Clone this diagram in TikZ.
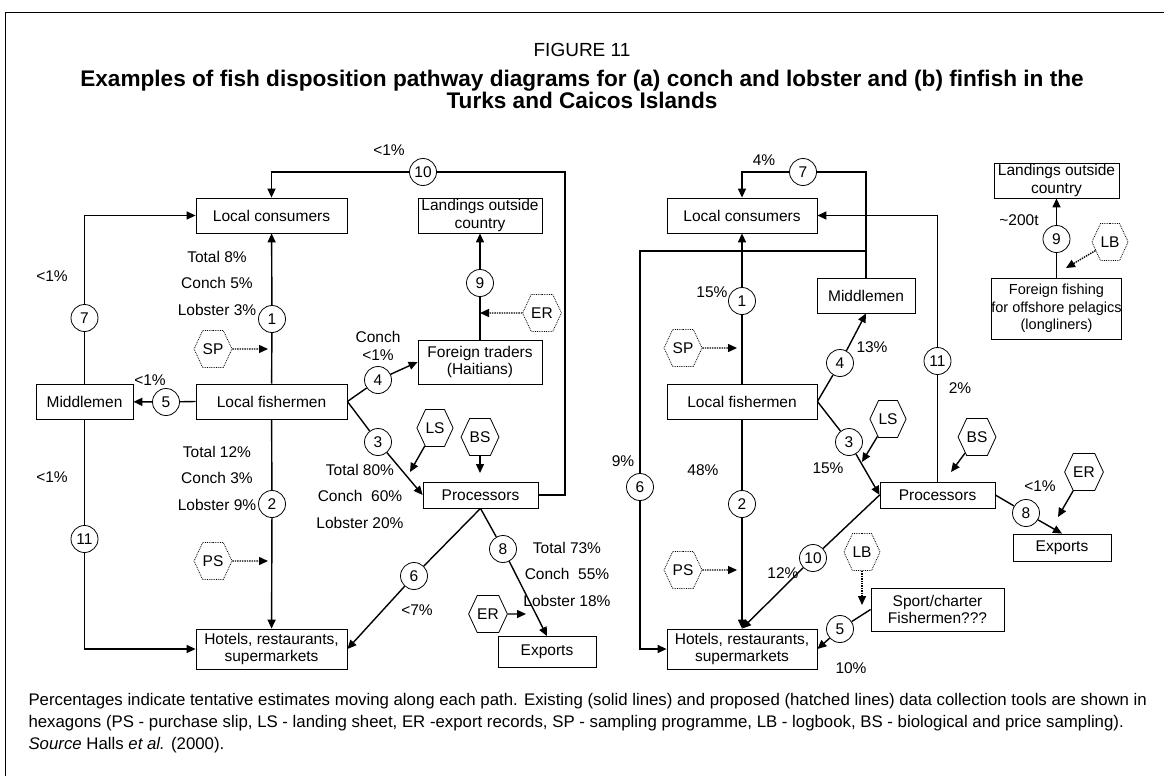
\documentclass[tikz,border=0pt]{standalone}
\usepackage{fontspec}
\setmainfont{Liberation Sans}
\usetikzlibrary{arrows.meta, positioning, shapes.symbols}

\begin{document}
\begin{tikzpicture}[x=1pt, y=-1pt,
    every node/.style={font=\fontsize{15.5}{17.5}\selectfont},
    box/.style={draw, line width=0.8pt, rectangle, align=center, inner sep=1pt},
    num/.style={draw, circle, line width=0.8pt, fill=white, minimum size=27pt, inner sep=0pt},
    hexa/.style={draw, line width=0.8pt, shape=signal, signal to=east and west, signal pointer angle=130, minimum width=35pt, minimum height=37pt, inner sep=0pt},
    planned/.style={hexa, densely dotted},
    flow/.style={line width=1.4pt, -{Triangle[length=9pt, width=8pt]}},
    tool/.style={line width=1.4pt, densely dotted, -{Triangle[length=9pt, width=8pt]}},
    stack/.style={align=center, font=\fontsize{15.5}{26.5}\selectfont}]
    \useasboundingbox (0,0) rectangle (1164,776);
    \draw[line width=1pt] (5,776) -- (5,13) -- (1164,13);

    % Title
    \node[font=\fontsize{19}{20}\selectfont] (fig) at (582,50) {FIGURE 11};
    \node[font=\bfseries\fontsize{22.6}{22}\selectfont, align=center] (ttl) at (582,89) {Examples of fish disposition pathway diagrams for (a) conch and lobster and (b) finfish in the\\Turks and Caicos Islands};

    % (a) conch and lobster
    \node[box, minimum width=151pt, minimum height=35pt] (lc) at (271.5,215.5) {Local consumers};
    \node[box, minimum width=151pt, minimum height=35pt] (lf) at (271.5,401.5) {Local fishermen};
    \node[box, minimum width=97pt, minimum height=35pt] (mid) at (84.5,401.5) {Middlemen};
    \node[box, minimum width=124pt, minimum height=35pt] (loc) at (480,215.5) {Landings outside\\country};
    \node[box, minimum width=124pt, minimum height=44pt] (ft) at (480,362) {Foreign traders\\(Haitians)};
    \node[box, minimum width=115pt, minimum height=26pt] (pro) at (480.5,495) {Processors};
    \node[box, minimum width=151pt, minimum height=40pt] (hot) at (271.5,649) {Hotels, restaurants,\\supermarkets};
    \node[box, minimum width=98pt, minimum height=31pt] (exl) at (547,652) {Exports};

    \node[num] (c1) at (272,319) {1};
    \node[num] (c2) at (272,504) {2};
    \node[num] (c3) at (378,442) {3};
    \node[num] (c4) at (378,380) {4};
    \node[num] (c5) at (166,402) {5};
    \node[num] (c6) at (414,576) {6};
    \node[num] (c7) at (84.5,318) {7};
    \node[num] (c8) at (503,549) {8};
    \node[num] (c9) at (480,283) {9};
    \node[num] (c10) at (423,172) {10};
    \node[num] (c11) at (84.5,539) {11};

    \node[planned] (sp1) at (213,349) {SP};
    \node[planned] (ps1) at (213,561) {PS};
    \node[planned] (er1) at (542,313) {ER};
    \node[hexa] (ls1) at (435,428) {LS};
    \node[hexa] (bs1) at (480,437) {BS};
    \node[hexa] (er2) at (488,614) {ER};

    \coordinate (tsp) at (268,349);
    \coordinate (tps) at (268,561);
    \coordinate (ter) at (480,313);
    \coordinate (tls) at (410,472);
    \coordinate (tbs) at (480,473);
    \coordinate (tex) at (526,614);
    \coordinate (ltop) at (565,172);

    \draw[flow] (lf) -- (c1) -- (lc);
    \draw[flow] (lf) -- (c2) -- (hot);
    \draw[flow] (lf.west) -- (c5) -- (mid);
    \draw[flow] (mid) -- (c7) |- (lc);
    \draw[flow] (mid) -- (c11) |- (hot);
    \draw[flow] (lf.east) -- (c4) -- (ft.west);
    \draw[flow] (lf.east) -- (c3) -- (pro.west);
    \draw[flow] (ft) -- (c9) -- (loc);
    \draw[flow] (pro.east) -| (ltop) -- (c10) -| (lc);
    \draw[flow] (pro.south) -- (c6) -- (hot.east);
    \draw[flow] (pro.south) -- (c8) -- (exl.north);
    \draw[tool] (sp1) -- (tsp);
    \draw[tool] (ps1) -- (tps);
    \draw[tool] (er1) -- (ter);
    \draw[flow] (ls1) -- (tls);
    \draw[flow] (bs1) -- (tbs);
    \draw[flow] (er2) -- (tex);

    \node (pa10) at (389,150) {<1\%};
    \node (pa7) at (52,276) {<1\%};
    \node (pa5) at (150,380) {<1\%};
    \node (pa11) at (52,477) {<1\%};
    \node[align=center, font=\fontsize{15.5}{18}\selectfont] (pa4) at (378,346) {Conch\\<1\%};
    \node (pa6) at (417,610) {<7\%};
    \node[stack] (sa1) at (217,283) {Total 8\%\\Conch 5\%\\Lobster 3\%};
    \node[stack] (sa2) at (217,478) {Total 12\%\\Conch 3\%\\Lobster 9\%};
    \node[stack] (sa3) at (360,496) {Total 80\%\\Conch~~60\%\\Lobster 20\%};
    \node[stack] (sa8) at (567,574) {Total 73\%\\Conch~~55\%\\Lobster 18\%};

    % (b) finfish
    \node[box, minimum width=150pt, minimum height=35pt] (lc2) at (742,215.5) {Local consumers};
    \node[box, minimum width=98pt, minimum height=35pt] (mid2) at (866,295.5) {Middlemen};
    \node[box, minimum width=150pt, minimum height=35pt] (lf2) at (742,401.5) {Local fishermen};
    \node[box, minimum width=115pt, minimum height=26pt] (pro2) at (937.5,495) {Processors};
    \node[box, minimum width=98pt, minimum height=27pt] (ex2) at (1062,547.5) {Exports};
    \node[box, minimum width=150pt, minimum height=40pt] (hot2) at (742,649) {Hotels, restaurants,\\supermarkets};
    \node[box, minimum width=133pt, minimum height=43pt] (spc) at (937.5,609.5) {Sport/charter\\Fishermen???};
    \node[box, minimum width=125pt, minimum height=35pt] (loc2) at (1056.5,180.5) {Landings outside\\country};
    \node[box, minimum width=125pt, minimum height=61pt, inner sep=0pt, font=\fontsize{14.5}{17.5}\selectfont] (ff) at (1056.5,308.5) {Foreign fishing\\for offshore pelagics\\(longliners)};

    \node[num] (c1r) at (742,301) {1};
    \node[num] (c2r) at (742,504) {2};
    \node[num] (c3r) at (849,442) {3};
    \node[num] (c4r) at (840,363) {4};
    \node[num] (c5r) at (840,629) {5};
    \node[num] (c6r) at (640,487) {6};
    \node[num] (c7r) at (803,172) {7};
    \node[num] (c8r) at (1026,513) {8};
    \node[num] (c9r) at (1056.5,239) {9};
    \node[num] (c10r) at (813,558) {10};
    \node[num] (c11r) at (937.5,361) {11};

    \node[planned] (sp2) at (683,348) {SP};
    \node[planned] (ps2) at (683,570) {PS};
    \node[planned] (lb2) at (862,552) {LB};
    \node[planned] (lb3) at (1110,242) {LB};
    \node[hexa] (ls2) at (888,419) {LS};
    \node[hexa] (bs2) at (977,437) {BS};
    \node[hexa] (er3) at (1084,472) {ER};

    \coordinate (tsp2) at (737,348);
    \coordinate (tps2) at (737,570);
    \coordinate (tlb2) at (862,605);
    \coordinate (tlb3) at (1066,268);
    \coordinate (tls2) at (862,462);
    \coordinate (tbs2) at (951,472);
    \coordinate (ter3) at (1058,517);
    \coordinate (j6) at (640,251);

    \draw[flow] (lf2) -- (c1r) -- (lc2);
    \draw[flow] (lf2) -- (c2r) -- (hot2.north);
    \draw[flow] (lf2.east) -- (c4r) -- (mid2.south);
    \draw[flow] (lf2.east) -- (c3r) -- (pro2.west);
    \draw[flow] (mid2.north) |- (c7r) -| (lc2);
    \draw[flow] (mid2.north) |- (j6) -- (c6r) |- (hot2);
    \draw[flow] (pro2) -- (c11r) |- (lc2);
    \draw[flow] (pro2.west) -- (c10r) -- (hot2.north);
    \draw[flow] (pro2.east) -- (c8r) -- (ex2.north);
    \draw[flow] (spc.west) -- (c5r) -- (hot2.east);
    \draw[flow] (ff) -- (c9r) -- (loc2);
    \draw[tool] (sp2) -- (tsp2);
    \draw[tool] (ps2) -- (tps2);
    \draw[tool] (lb2) -- (tlb2);
    \draw[tool] (lb3) -- (tlb3);
    \draw[flow] (ls2) -- (tls2);
    \draw[flow] (bs2) -- (tbs2);
    \draw[flow] (er3) -- (ter3);

    \node (pb7) at (764,160) {4\%};
    \node (pb1) at (712,292) {15\%};
    \node (pb4) at (872,347) {13\%};
    \node (pb11) at (960,388) {2\%};
    \node (pb6) at (623,461) {9\%};
    \node (pb2) at (703,470) {48\%};
    \node (pb3) at (828,468) {15\%};
    \node (pb8) at (1040,486) {<1\%};
    \node (pb10) at (783,573) {12\%};
    \node (pb5) at (851,668) {10\%};
    \node (pb9) at (1019,220) {\textasciitilde200t};

    % Caption
    \node[anchor=west, align=left, font=\fontsize{16.8}{22}\selectfont] (cap) at (25,723) {Percentages indicate tentative estimates moving along each path. Existing (solid lines) and proposed (hatched lines) data collection tools are shown in\\hexagons (PS - purchase slip, LS - landing sheet, ER -export records, SP - sampling programme, LB - logbook, BS - biological and price sampling).\\\emph{Source} Halls \emph{et al.} (2000).};
\end{tikzpicture}
\end{document}
